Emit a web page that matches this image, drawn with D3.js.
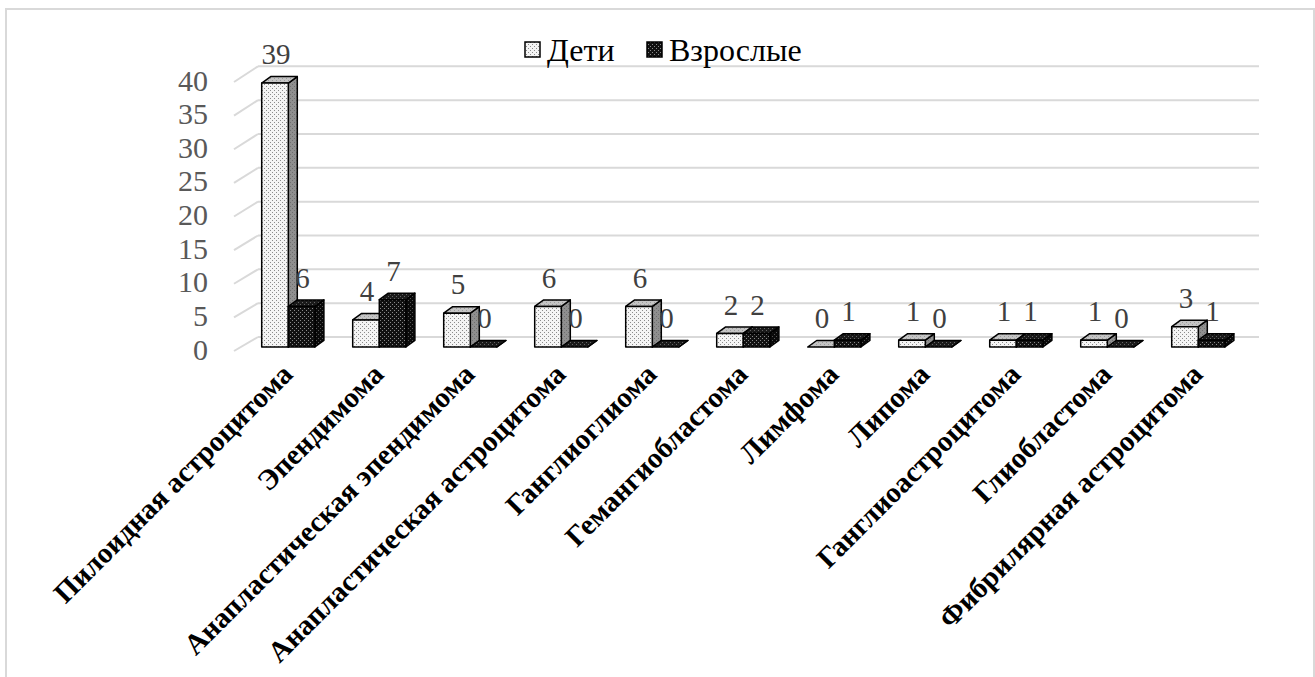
<!DOCTYPE html>
<html>
<head>
<meta charset="utf-8">
<script src="https://cdn.jsdelivr.net/npm/d3@7"></script>
<style>
  body { margin: 0; background: #fff; }
  svg { display: block; }
</style>
</head>
<body>
<svg width="1315" height="677"></svg>
<script>
var categories = [
    'Пилоидная астроцитома', 'Эпендимома', 'Анапластическая эпендимома',
    'Анапластическая астроцитома', 'Ганглиоглиома', 'Гемангиобластома',
    'Лимфома', 'Липома', 'Ганглиоастроцитома', 'Глиобластома',
    'Фибрилярная астроцитома'
];
var seriesNames = ['Дети', 'Взрослые'];
var deti = [39, 4, 5, 6, 6, 2, 0, 1, 1, 1, 3];
var vzroslye = [6, 7, 0, 0, 0, 2, 1, 0, 1, 0, 1];
var yTicks = [0, 5, 10, 15, 20, 25, 30, 35, 40];

var serif = '"Liberation Serif", "Times New Roman", serif';
var svg = d3.select('svg');

// border of chart area
svg.append('rect')
    .attr('x', 6).attr('y', 9)
    .attr('width', 1308).attr('height', 700)
    .attr('fill', '#fff')
    .attr('stroke', '#d9d9d9')
    .attr('stroke-width', 2);

// patterns
var defs = svg.append('defs');
function dots(id, bg, dot) {
    var p = defs.append('pattern')
        .attr('id', id)
        .attr('width', 4).attr('height', 4)
        .attr('patternUnits', 'userSpaceOnUse');
    p.append('rect').attr('width', 4).attr('height', 4).attr('fill', bg);
    p.append('rect').attr('x', 0).attr('y', 0).attr('width', 1).attr('height', 1).attr('fill', dot);
    p.append('rect').attr('x', 2).attr('y', 2).attr('width', 1).attr('height', 1).attr('fill', dot);
}
dots('detiFront', '#f4f4f4', '#8a8a8a');
dots('detiSide', '#8f8f8f', '#6e6e6e');
dots('detiTop', '#c4c4c4', '#9a9a9a');
dots('vzrFront', '#111', '#8a8a8a');
dots('vzrSide', '#0a0a0a', '#555');
dots('vzrTop', '#1a1a1a', '#666');

var fills = [
    { front: 'url(#detiFront)', side: 'url(#detiSide)', top: 'url(#detiTop)' },
    { front: 'url(#vzrFront)', side: 'url(#vzrSide)', top: 'url(#vzrTop)' }
];

// scales: back wall, front floor edge, bar front plane
var yBack = d3.scaleLinear().domain([0, 40]).range([337, 66.3]);
var yFront = d3.scaleLinear().domain([0, 40]).range([351, 82]);
var yBar = d3.scaleLinear().domain([0, 40]).range([347, 76.3]);
var x = d3.scaleBand().domain(categories).range([242.8, 1243.8]);
var bw = 26.6;
var ddx = 9, ddy = -6.5;

// gridlines
var grid = svg.append('g');
yTicks.forEach(function (t) {
    grid.append('line')
        .attr('x1', 258).attr('x2', 1259)
        .attr('y1', yBack(t)).attr('y2', yBack(t))
        .attr('stroke', '#d9d9d9').attr('stroke-width', 2);
    grid.append('line')
        .attr('x1', 234).attr('x2', 258)
        .attr('y1', yFront(t)).attr('y2', yBack(t))
        .attr('stroke', '#d9d9d9').attr('stroke-width', 2);
});

// y axis labels
svg.append('g').selectAll('text')
    .data(yTicks)
    .enter().append('text')
    .attr('x', 208)
    .attr('y', function (d) { return yFront(d) - 2; })
    .attr('dy', '0.35em')
    .attr('text-anchor', 'end')
    .attr('font-family', serif)
    .attr('font-size', 30)
    .attr('fill', '#595959')
    .text(function (d) { return d; });

// bars
var series = [deti, vzroslye];
var bars = svg.append('g');
categories.forEach(function (c, i) {
    series.forEach(function (vals, s) {
        var v = vals[i];
        var x0 = x(c) + (x.bandwidth() - 2 * bw) / 2 + s * bw;
        var x1 = x0 + bw;
        var yt = yBar(v), yb = yBar(0);
        var g = bars.append('g')
            .attr('stroke', '#000')
            .attr('stroke-width', 1.5)
            .attr('stroke-linejoin', 'round');
        g.append('polygon')
            .attr('points', [[x1, yt], [x1 + ddx, yt + ddy], [x1 + ddx, yb + ddy], [x1, yb]].join(' '))
            .attr('fill', fills[s].side);
        g.append('polygon')
            .attr('points', [[x0, yt], [x0 + ddx, yt + ddy], [x1 + ddx, yt + ddy], [x1, yt]].join(' '))
            .attr('fill', fills[s].top);
        if (v > 0) {
            g.append('rect')
                .attr('x', x0).attr('y', yt)
                .attr('width', bw).attr('height', yb - yt)
                .attr('fill', fills[s].front);
        }
    });
});

// data labels
var labels = svg.append('g');
categories.forEach(function (c, i) {
    series.forEach(function (vals, s) {
        var v = vals[i];
        var x0 = x(c) + (x.bandwidth() - 2 * bw) / 2 + s * bw;
        labels.append('text')
            .attr('x', x0 + bw / 2 + 1)
            .attr('y', yBar(v) - 29)
            .attr('dy', '0.35em')
            .attr('text-anchor', 'middle')
            .attr('font-family', serif)
            .attr('font-size', 29)
            .attr('fill', '#404040')
            .text(v);
    });
});

// category labels
svg.append('g').selectAll('text')
    .data(categories)
    .enter().append('text')
    .attr('transform', function (d) {
        return 'translate(' + (x(d) + x.bandwidth() / 2 + 6) + ',376) rotate(-45)';
    })
    .attr('text-anchor', 'end')
    .attr('font-family', serif)
    .attr('font-weight', 'bold')
    .attr('font-size', 29)
    .attr('fill', '#000')
    .text(function (d) { return d; });

// legend
var legend = svg.append('g');
var legX = [525, 647];
seriesNames.forEach(function (n, s) {
    legend.append('rect')
        .attr('x', legX[s]).attr('y', 42)
        .attr('width', 15).attr('height', 15)
        .attr('fill', fills[s].front)
        .attr('stroke', '#000').attr('stroke-width', 1.5);
    legend.append('text')
        .attr('x', legX[s] + 22).attr('y', 50)
        .attr('dy', '0.35em')
        .attr('font-family', serif)
        .attr('font-size', 32)
        .attr('fill', '#000')
        .text(n);
});
</script>
</body>
</html>
